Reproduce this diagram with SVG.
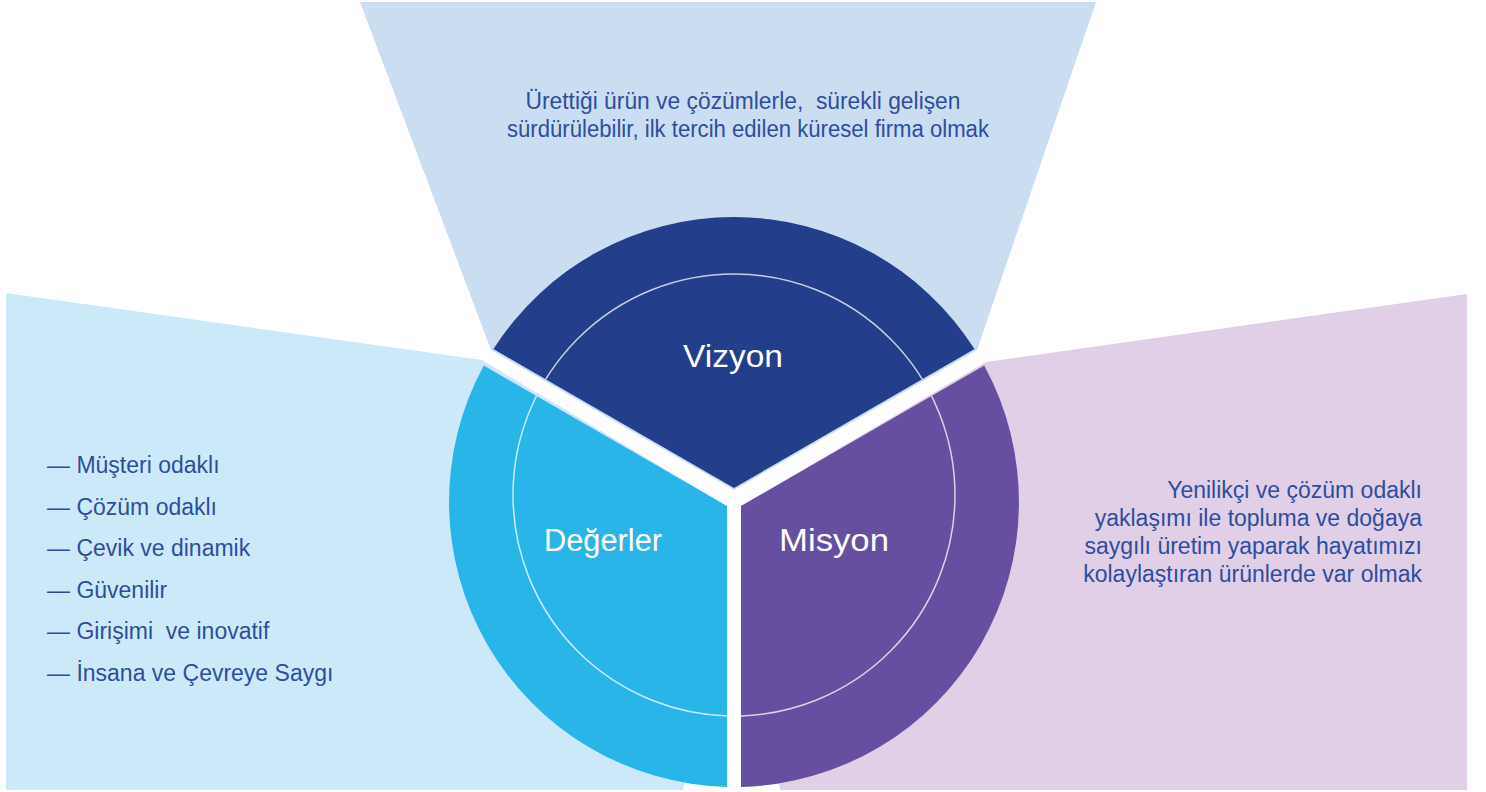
<svg xmlns="http://www.w3.org/2000/svg" width="1486" height="792" viewBox="0 0 1486 792">
  <style>
    .panel-top { fill: #CADDF1; }
    .panel-left { fill: #CCE9F9; }
    .panel-right { fill: #E0CFE6; }
    .body { font-family: "Liberation Sans", Arial, sans-serif; font-size: 23px; fill: #2E4E9D; }
    .label { font-family: "Liberation Sans", Arial, sans-serif; font-size: 31px; fill: #FFFFFF; text-anchor: middle; }
    .inner { fill: none; stroke: #FFFFFF; stroke-width: 1.5; stroke-opacity: 0.75; }
  </style>
  <defs>
    <clipPath id="clipViz"><path d="M734,488 L493.5,349.1 A285,285 0 0 1 974.5,349.1 Z"/></clipPath>
    <clipPath id="clipDeg"><path d="M727,506 L483.8,365.6 A285,285 0 0 0 727,786.9 Z"/></clipPath>
    <clipPath id="clipMis"><path d="M741,506 L984.2,365.6 A285,285 0 0 1 741,786.9 Z"/></clipPath>
  </defs>
  <rect width="1486" height="792" fill="#FFFFFF"/>

  <g id="panels">
    <polygon class="panel-top" points="360,2 1096,2 977,350 734,490 491,350"/>
    <polygon class="panel-left" points="6,293 482,360 727,506 683,790 6,790"/>
    <polygon class="panel-right" points="1467,294 986,362 741,506 780,790 1467,790"/>
  </g>

  <g id="vizyon">
    <path d="M734,488 L493.5,349.1 A285,285 0 0 1 974.5,349.1 Z" fill="#233E8B"/>
    <circle class="inner" cx="734" cy="495" r="221" clip-path="url(#clipViz)"/>
    <text class="label" x="733" y="367" font-size="32" textLength="100" lengthAdjust="spacingAndGlyphs">Vizyon</text>
  </g>

  <g id="degerler">
    <path d="M727,506 L483.8,365.6 A285,285 0 0 0 727,786.9 Z" fill="#2AB5E9"/>
    <circle class="inner" cx="734" cy="495" r="221" clip-path="url(#clipDeg)"/>
    <text class="label" x="603" y="551" textLength="118" lengthAdjust="spacingAndGlyphs">Değerler</text>
  </g>

  <g id="misyon">
    <path d="M741,506 L984.2,365.6 A285,285 0 0 1 741,786.9 Z" fill="#664FA0"/>
    <circle class="inner" cx="734" cy="495" r="221" clip-path="url(#clipMis)"/>
    <text class="label" x="834" y="551" font-size="32" textLength="110" lengthAdjust="spacingAndGlyphs">Misyon</text>
  </g>

  <g id="vizyon-text" class="body" text-anchor="middle">
    <text x="743" y="109" textLength="435" lengthAdjust="spacingAndGlyphs">Ürettiği ürün ve çözümlerle,&#160; sürekli gelişen</text>
    <text x="748" y="137" textLength="482" lengthAdjust="spacingAndGlyphs">sürdürülebilir, ilk tercih edilen küresel firma olmak</text>
  </g>

  <g id="degerler-text" class="body">
    <text x="47" y="473">— Müşteri odaklı</text>
    <text x="47" y="514.5">— Çözüm odaklı</text>
    <text x="47" y="556">— Çevik ve dinamik</text>
    <text x="47" y="597.5">— Güvenilir</text>
    <text x="47" y="639">— Girişimi&#160; ve inovatif</text>
    <text x="47" y="680.5">— İnsana ve Çevreye Saygı</text>
  </g>

  <g id="misyon-text" class="body" text-anchor="end">
    <text x="1422" y="498">Yenilikçi ve çözüm odaklı</text>
    <text x="1422" y="526">yaklaşımı ile topluma ve doğaya</text>
    <text x="1422" y="554">saygılı üretim yaparak hayatımızı</text>
    <text x="1422" y="582">kolaylaştıran ürünlerde var olmak</text>
  </g>

  <g id="connectors"></g>
</svg>
